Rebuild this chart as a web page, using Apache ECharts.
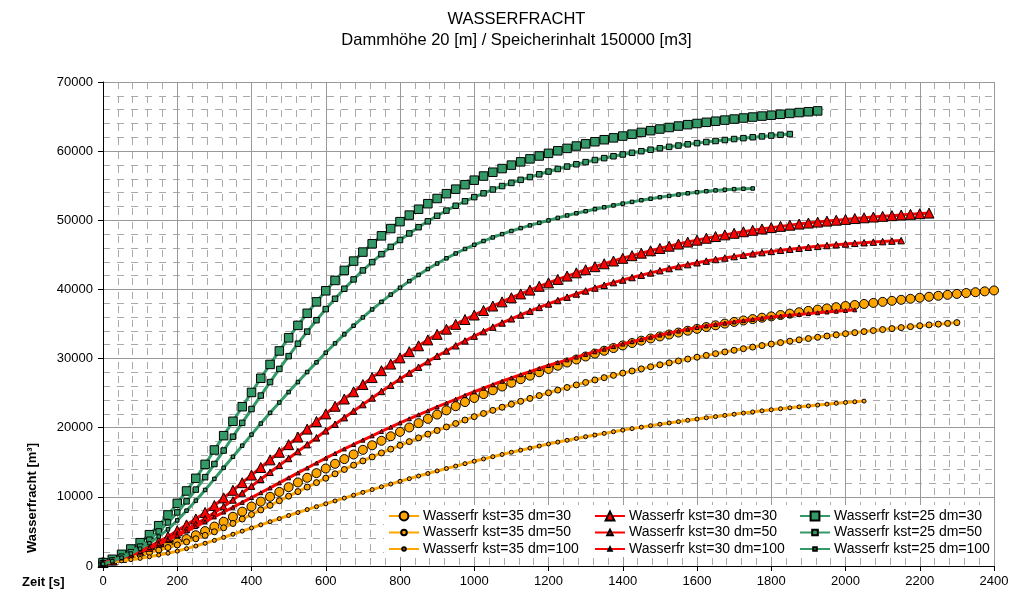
<!DOCTYPE html>
<html><head><meta charset="utf-8">
<script src="https://cdn.jsdelivr.net/npm/echarts/dist/echarts.min.js"></script>
<style>html,body{margin:0;padding:0;background:#fff}#c{width:1033px;height:596px}</style>
</head><body><div id="c"></div>
<script>
// sampling step of every series [s]
const TIME_STEP = 25;

const seriesNames = [
  'Wasserfr kst=35 dm=30', 'Wasserfr kst=30 dm=30', 'Wasserfr kst=25 dm=30',
  'Wasserfr kst=35 dm=50', 'Wasserfr kst=30 dm=50', 'Wasserfr kst=25 dm=50',
  'Wasserfr kst=35 dm=100', 'Wasserfr kst=30 dm=100', 'Wasserfr kst=25 dm=100'
];

const kst35_dm30 = [500,820,1170,1530,1900,2270,2650,3020,3400,3900,4450,5050,5700,6400,7120,7860,8600,9310,10010,10710,11400,12080,12760,13430,14100,14780,15460,16130,16800,17460,18110,18760,19400,20030,20660,21280,21900,22510,23110,23710,24300,24860,25410,25960,26500,27020,27530,28020,28500,28970,29430,29870,30300,30720,31130,31520,31900,32250,32590,32910,33200,33480,33760,34030,34300,34560,34810,35060,35300,35510,35710,35910,36100,36300,36500,36700,36900,37080,37260,37430,37600,37750,37900,38050,38200,38350,38500,38650,38800,38940,39080,39220,39350,39480,39600,39720,39850];
const kst35_dm50 = [450,710,990,1290,1600,1940,2300,2670,3050,3480,3940,4430,4950,5530,6150,6790,7450,8110,8770,9440,10100,10760,11410,12060,12700,13330,13960,14580,15200,15780,16350,16900,17450,17990,18530,19070,19600,20110,20610,21110,21600,22060,22510,22960,23400,23820,24240,24650,25050,25440,25820,26190,26550,26900,27240,27570,27900,28210,28510,28810,29100,29380,29660,29930,30200,30460,30710,30960,31200,31430,31660,31880,32100,32310,32510,32710,32900,33080,33260,33430,33600,33750,33900,34050,34200,34340,34480,34620,34750,34870,34980,35090,35200];
const kst35_dm100 = [400,560,740,920,1100,1330,1580,1850,2150,2510,2890,3290,3700,4140,4590,5040,5500,5950,6400,6850,7300,7730,8160,8580,9000,9410,9820,10240,10650,11050,11450,11850,12250,12630,13010,13380,13750,14100,14450,14800,15150,15480,15810,16130,16450,16750,17050,17350,17650,17920,18180,18440,18700,18940,19180,19420,19650,19870,20080,20290,20500,20690,20880,21070,21250,21430,21610,21780,21950,22120,22280,22440,22600,22740,22880,23020,23150,23280,23410,23530,23650,23750,23850];
const kst30_dm30 = [500,850,1250,1700,2200,2800,3500,4250,5100,5950,6800,7750,8750,9850,10950,12050,13150,14250,15350,16450,17550,18650,19800,20900,22000,23100,24150,25200,26250,27250,28250,29200,30100,31000,31850,32700,33500,34250,34950,35650,36300,36950,37600,38200,38800,39350,39900,40450,40950,41450,41930,42400,42850,43290,43710,44110,44500,44880,45240,45590,45930,46250,46560,46850,47130,47400,47650,47890,48120,48340,48550,48750,48940,49120,49290,49450,49600,49740,49880,50010,50130,50250,50360,50470,50570,50670,50770,50860,50950,51040];
const kst30_dm50 = [450,780,1150,1580,2050,2600,3200,3850,4550,5300,6050,6850,7700,8600,9550,10550,11550,12550,13550,14550,15550,16550,17550,18550,19550,20500,21450,22400,23350,24300,25250,26150,27050,27900,28750,29550,30350,31100,31850,32550,33250,33900,34550,35150,35750,36300,36850,37400,37900,38400,38880,39340,39780,40200,40600,40990,41360,41720,42060,42390,42710,43020,43310,43590,43860,44100,44330,44545,44750,44960,45150,45330,45500,45665,45820,45965,46100,46230,46350,46465,46570,46670,46760,46845,46920,46995,47060];
const kst30_dm100 = [400,750,1150,1600,2100,2650,3200,3800,4400,5050,5700,6400,7100,7800,8500,9200,9900,10600,11300,12030,12750,13470,14180,14890,15600,16270,16930,17570,18200,18830,19460,20080,20700,21290,21870,22440,23000,23560,24110,24660,25200,25710,26220,26720,27200,27660,28110,28560,29000,29410,29810,30210,30600,30980,31360,31730,32100,32440,32770,33090,33400,33690,33970,34240,34500,34720,34930,35120,35300,35480,35660,35830,36000,36140,36270,36390,36500,36620,36740,36850,36950,37050];
const kst25_dm30 = [500,970,1690,2460,3370,4530,5830,7380,9060,10850,12680,14700,16780,18850,20930,23040,25100,27150,29150,31100,33000,34800,36550,38200,39800,41300,42750,44100,45400,46600,47750,48800,49800,50750,51600,52400,53150,53850,54500,55150,55800,56400,56950,57480,57980,58450,58880,59300,59680,60050,60400,60740,61060,61360,61650,61920,62180,62450,62710,62960,63200,63420,63630,63830,64000,64170,64330,64490,64640,64790,64930,65070,65200,65330,65460,65580,65700,65820];
const kst25_dm50 = [400,800,1350,2000,2800,3800,5000,6300,7750,9350,11050,12850,14750,16700,18700,20700,22700,24650,26600,28500,30350,32150,33900,35550,37150,38650,40100,41450,42750,43950,45100,46150,47150,48100,49000,49850,50650,51400,52100,52750,53350,53900,54450,54950,55400,55850,56250,56650,57050,57420,57770,58100,58410,58710,58990,59260,59520,59760,59990,60210,60420,60620,60810,60990,61160,61320,61470,61610,61750,61880,62010,62130,62250,62360,62470];
const kst25_dm100 = [300,700,1200,1800,2500,3300,4250,5300,6600,8000,9450,11000,12600,14200,15800,17400,19000,20600,22150,23650,25150,26600,28050,29450,30850,32200,33500,34750,35950,37100,38200,39250,40250,41200,42100,42950,43750,44500,45200,45850,46450,47000,47520,48000,48450,48870,49260,49630,49980,50350,50700,51010,51310,51600,51880,52150,52410,52660,52900,53120,53330,53530,53720,53900,54060,54200,54320,54420,54500,54560,54600];

const FONT = '"Liberation Sans", Arial, sans-serif';
const ORANGE = '#FFA500', RED = '#FF0000', GREEN = '#339966';

const seriesDefs = [
  {vals: kst35_dm30,  color: ORANGE, symbol: 'circle',   size: 9},
  {vals: kst30_dm30,  color: RED,    symbol: 'triangle', size: 10},
  {vals: kst25_dm30,  color: GREEN,  symbol: 'rect',     size: 8.5},
  {vals: kst35_dm50,  color: ORANGE, symbol: 'circle',   size: 6},
  {vals: kst30_dm50,  color: RED,    symbol: 'triangle', size: 6.5},
  {vals: kst25_dm50,  color: GREEN,  symbol: 'rect',     size: 5.5},
  {vals: kst35_dm100, color: ORANGE, symbol: 'circle',   size: 4},
  {vals: kst30_dm100, color: RED,    symbol: 'triangle', size: 4},
  {vals: kst25_dm100, color: GREEN,  symbol: 'rect',     size: 3.5}
];

const series = seriesDefs.map((d, k) => ({
  name: seriesNames[k],
  type: 'line',
  data: d.vals.map((v, i) => [i * TIME_STEP, v]),
  symbol: d.symbol,
  symbolSize: d.size,
  showSymbol: true,
  showAllSymbol: true,
  smooth: false,
  lineStyle: {color: d.color, width: 3},
  itemStyle: {color: d.color, borderColor: '#000', borderWidth: 1},
  emphasis: {disabled: true},
  z: 2 + k * 0.01
}));

const colLeft = [388, 594, 799];
const rowCenter = [516, 532.5, 549];
const legendHeights = [11, 7, 4.5];
const legends = seriesNames.map((n, k) => ({
  data: [n],
  orient: 'vertical',
  left: colLeft[k % 3],
  top: rowCenter[Math.floor(k / 3)] - 8,
  padding: 0,
  itemWidth: 30,
  itemHeight: legendHeights[Math.floor(k / 3)],
  selectedMode: false,
  textStyle: {fontSize: 14, color: '#000', fontFamily: FONT, lineHeight: 16, padding: [0, 0, 0, -1]}
}));

const axisCommon = {
  axisLine: {show: true, lineStyle: {color: '#000', width: 1}},
  axisTick: {show: true, length: 5, lineStyle: {color: '#000'}},
  splitLine: {show: true, lineStyle: {color: '#999', width: 1}},
  minorTick: {show: false, splitNumber: 5},
  minorSplitLine: {show: true, lineStyle: {color: '#aaa', width: 1, type: [7, 7]}}
};

const plainNumber = v => String(v);

const option = {
  animation: false,
  backgroundColor: '#fff',
  textStyle: {fontFamily: FONT},
  title: [
    {text: 'WASSERFRACHT', left: 'center', top: 6, textStyle: {fontSize: 16.5, fontWeight: 'normal', color: '#000', fontFamily: FONT}},
    {text: 'Dammhöhe 20 [m] / Speicherinhalt 150000 [m3]', left: 'center', top: 27, textStyle: {fontSize: 16.5, fontWeight: 'normal', color: '#000', fontFamily: FONT}}
  ],
  grid: {left: 103, right: 39, top: 82, bottom: 30},
  xAxis: Object.assign({
    type: 'value', min: 0, max: 2400, interval: 200,
    axisLabel: {fontSize: 13, color: '#000', margin: 9, fontFamily: FONT, formatter: plainNumber}
  }, axisCommon),
  yAxis: Object.assign({
    type: 'value', min: 0, max: 70000, interval: 10000,
    axisLabel: {fontSize: 13, color: '#000', margin: 10, fontFamily: FONT, formatter: plainNumber}
  }, axisCommon),
  legend: legends,
  graphic: [
    {type: 'rect', shape: {x: 384, y: 505, width: 608, height: 52}, style: {fill: '#fff'}, z: 3, silent: true},
    {type: 'text', x: 22, y: 582, style: {text: 'Zeit [s]', font: 'bold 13px ' + FONT, fill: '#000', align: 'left', verticalAlign: 'middle'}},
    {type: 'text', x: 32, y: 498, rotation: Math.PI / 2, style: {text: 'Wasserfracht [m³]', font: 'bold 13px ' + FONT, fill: '#000', align: 'center', verticalAlign: 'middle'}}
  ],
  series: series
};

const chart = echarts.init(document.getElementById('c'), null, {renderer: 'canvas'});
chart.setOption(option);
</script>
</body></html>
